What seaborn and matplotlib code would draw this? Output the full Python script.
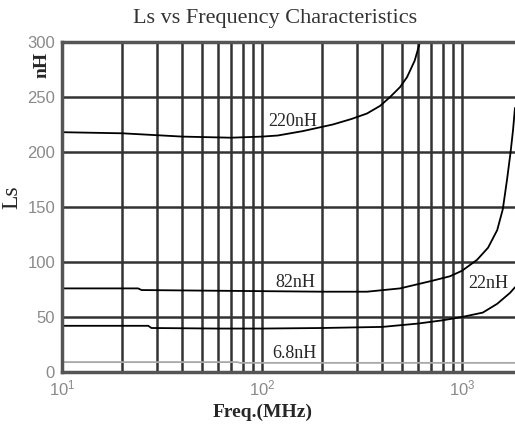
import numpy as np
import pandas as pd
import matplotlib
matplotlib.use("Agg")
import matplotlib.pyplot as plt
from matplotlib.ticker import LogLocator, FixedLocator
import seaborn as sns

# values (frequency in MHz, inductance in nH)
freq_220 = [10, 20, 40, 70, 100, 120, 160, 226, 280, 335, 390, 437, 490, 531, 580, 617]
ls_220 = [218, 217, 214, 213, 214, 215, 219, 225, 230, 235, 242, 250, 259, 268, 283, 300]

freq_82 = [10, 24, 25, 50, 100, 200, 335, 490, 712, 870, 1000, 1190, 1350, 1500, 1600, 1680, 1750, 1800, 1840]
ls_82 = [76, 76, 74.5, 74, 73.5, 73, 73, 76, 83, 87, 92, 102, 113, 129, 148, 175, 200, 220, 240]

freq_22 = [10, 27, 28, 60, 100, 200, 400, 600, 800, 1000, 1270, 1500, 1740, 1840]
ls_22 = [42, 42, 40, 39.5, 39.5, 40, 41, 44, 47, 50, 54, 62, 72, 77]

freq_68 = [10, 75, 78, 1000, 1840]
ls_68 = [9, 9, 8.3, 8.3, 8.3]

y_ticks = [0, 50, 100, 150, 200, 250, 300]
curve_labels = ["220nH", "82nH", "22nH", "6.8nH"]

sns.set_theme(style="white")
plt.rcParams['font.family'] = ['Liberation Sans', 'DejaVu Sans']
plt.rcParams['mathtext.fontset'] = 'custom'
plt.rcParams['mathtext.rm'] = 'Liberation Sans'
serif = ['Liberation Serif', 'DejaVu Serif']

fig = plt.figure(figsize=(5.15, 4.26), dpi=100)
ax = fig.add_axes([62 / 515, 54 / 426, 453 / 515, 330 / 426])

curves = [(freq_220, ls_220, 'black'), (freq_82, ls_82, 'black'),
          (freq_22, ls_22, 'black'), (freq_68, ls_68, '#a8a8a8')]
for fx, ly, col in curves:
    df = pd.DataFrame({'freq': fx, 'ls': ly})
    sns.lineplot(data=df, x='freq', y='ls', color=col, lw=1.3, ax=ax)

ax.set_xscale('log')
ax.set_xlim(10, 1841)
ax.set_ylim(0, 300)
ax.xaxis.set_major_locator(LogLocator(base=10))
ax.xaxis.set_minor_locator(LogLocator(base=10, subs=np.arange(2, 10)))
ax.yaxis.set_major_locator(FixedLocator(y_ticks))

ax.set_axisbelow(True)
ax.grid(True, which='both', axis='x', color='#333333', lw=1.8)
ax.grid(True, which='major', axis='y', color='#333333', lw=1.8)

for side in ['left', 'bottom', 'top']:
    ax.spines[side].set_color('#555555')
    ax.spines[side].set_linewidth(2.5)
ax.spines['right'].set_visible(False)

ax.tick_params(axis='both', which='major', labelsize=12, labelcolor='#8a8a8a',
               length=3, color='#555555', pad=2)
ax.tick_params(axis='x', which='minor', length=0)

ax.set_xlabel('')
ax.set_ylabel('')

# curve annotations
ax.text(107, 224, curve_labels[0], fontsize=13, va='baseline', family=serif)
ax.text(116, 77, curve_labels[1], fontsize=13, va='baseline', family=serif)
ax.text(1080, 76, curve_labels[2], fontsize=13, va='baseline', family=serif)
ax.text(112, 13, curve_labels[3], fontsize=13, va='baseline', family=serif)

fig.text(275 / 515, 1 - 18 / 426, 'Ls vs Frequency Characteristics',
         fontsize=16, ha='center', va='center', color='#333333', family=serif)
fig.text(12 / 515, 1 - 197 / 426, 'Ls', fontsize=17, rotation=90,
         ha='center', va='center', family=serif)
fig.text(42 / 515, 1 - 65 / 426, 'nH', fontsize=14, fontweight='bold',
         rotation=90, ha='center', va='center', family=serif)
fig.text(263 / 515, 1 - 412 / 426, 'Freq.(MHz)', fontsize=14,
         fontweight='bold', ha='center', va='center', family=serif)

fig.savefig('out.png', dpi=100)
